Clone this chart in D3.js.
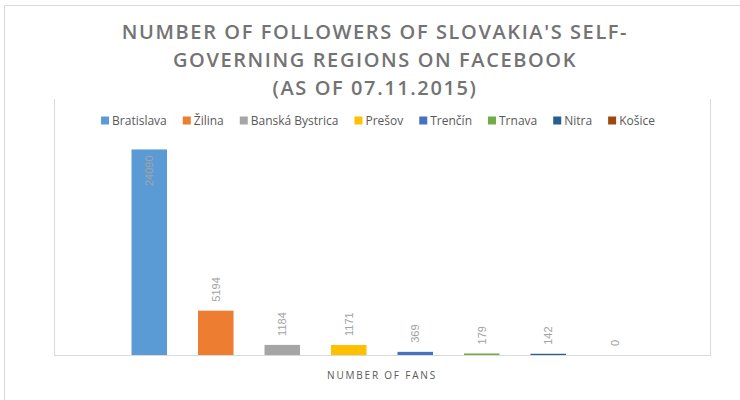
<!DOCTYPE html>
<html>
<head>
<meta charset="utf-8">
<script src="https://cdn.jsdelivr.net/npm/d3@7"></script>
<style>
  html, body { margin: 0; padding: 0; background: #fff; }
  svg { display: block; }
</style>
</head>
<body>
<svg id="chart" width="740" height="400"></svg>
<script>
// ---- data ----
const regions = ["Bratislava", "Žilina", "Banská Bystrica", "Prešov", "Trenčín", "Trnava", "Nitra", "Košice"];
const fans = [24090, 5194, 1184, 1171, 369, 179, 142, 0];
const colors = ["#5B9BD5", "#ED7D31", "#A5A5A5", "#FFC000", "#4472C4", "#70AD47", "#255E91", "#9E480E"];
const titleLines = ["NUMBER OF FOLLOWERS OF SLOVAKIA'S SELF-", "GOVERNING REGIONS ON FACEBOOK", "(AS OF 07.11.2015)"];
const axisTitle = "NUMBER OF FANS";
const yMax = 30000;

const svg = d3.select("#chart");
const W = 740, H = 400;
const plot = { left: 54, right: 710, top: 99, bottom: 355 };

// outer chart frame (top + left visible)
svg.append("line").attr("x1", 4.5).attr("x2", W).attr("y1", 5.5).attr("y2", 5.5)
  .attr("stroke", "#d9d9d9").attr("stroke-width", 1);
svg.append("line").attr("x1", 4.5).attr("x2", 4.5).attr("y1", 5.5).attr("y2", H)
  .attr("stroke", "#d9d9d9").attr("stroke-width", 1);

// title
const title = svg.append("text")
  .attr("text-anchor", "middle")
  .attr("font-family", "'Open Sans', sans-serif")
  .attr("font-weight", 600)
  .attr("font-size", 20)
  .attr("letter-spacing", 1.6)
  .attr("fill", "#737373");
titleLines.forEach((t, i) => {
  title.append("tspan").attr("x", 375).attr("y", 39 + i * 28).text(t);
});

// plot frame
const frame = svg.append("g").attr("stroke", "#d9d9d9").attr("stroke-width", 1).attr("fill", "none");
frame.append("line").attr("x1", plot.left + 0.5).attr("x2", plot.left + 0.5).attr("y1", plot.top).attr("y2", plot.bottom);
frame.append("line").attr("x1", plot.right + 0.5).attr("x2", plot.right + 0.5).attr("y1", plot.top).attr("y2", plot.bottom);

// scales
const x = d3.scaleBand().domain(regions).range([plot.left, plot.right])
  .paddingInner(0.466).paddingOuter(1.166);
const y = d3.scaleLinear().domain([0, yMax]).range([plot.bottom, plot.top]);

// bars
svg.append("g").selectAll("rect").data(regions).join("rect")
  .attr("x", d => x(d))
  .attr("width", x.bandwidth())
  .attr("y", (d, i) => y(fans[i]))
  .attr("height", (d, i) => y(0) - y(fans[i]))
  .attr("fill", (d, i) => colors[i]);

// baseline
frame.append("line").attr("x1", plot.left).attr("x2", plot.right + 1).attr("y1", plot.bottom + 0.5).attr("y2", plot.bottom + 0.5);

// value labels (rotated)
const labels = svg.append("g")
  .attr("font-family", "'Liberation Sans', Arial, sans-serif")
  .attr("font-size", 11)
  .attr("fill", "#a3a3a3");
regions.forEach((r, i) => {
  const cx = x(r) + x.bandwidth() / 2;
  const top = y(fans[i]);
  const t = labels.append("text").text(fans[i]);
  const len = t.node().getComputedTextLength();
  let yy, anchor;
  if (top - 9 - len < 132) { // no room above: inside end
    yy = top + 6; anchor = "end";
  } else {
    yy = top - 9; anchor = "start";
  }
  t.attr("transform", `translate(${cx + 4},${yy}) rotate(-90)`)
    .attr("text-anchor", anchor);
});

// legend
const legend = svg.append("g")
  .attr("font-family", "'Open Sans', sans-serif")
  .attr("font-size", 12)
  .attr("fill", "#595959");
const items = [];
let cursor = 0;
const gap = 16;
regions.forEach((r, i) => {
  const g = legend.append("g");
  g.append("rect").attr("width", 8).attr("height", 8).attr("y", -8.5).attr("fill", colors[i]);
  const t = g.append("text").attr("x", 11).attr("y", 0).text(r);
  const w = 11 + t.node().getComputedTextLength();
  items.push({ g, x: cursor });
  cursor += w + gap;
});
const totalW = cursor - gap;
const startX = 378 - totalW / 2;
items.forEach(it => it.g.attr("transform", `translate(${startX + it.x},125)`));

// axis title
svg.append("text")
  .attr("x", 382).attr("y", 379)
  .attr("text-anchor", "middle")
  .attr("font-family", "'Open Sans', sans-serif")
  .attr("font-size", 10)
  .attr("letter-spacing", 1.8)
  .attr("fill", "#595959")
  .text(axisTitle);
</script>
</body>
</html>
